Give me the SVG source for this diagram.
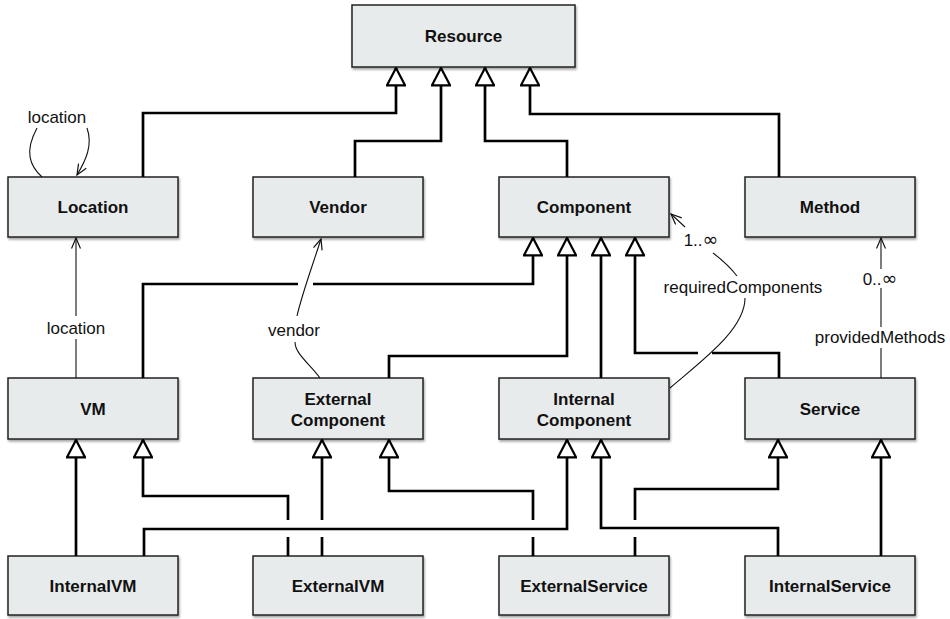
<svg xmlns="http://www.w3.org/2000/svg" width="950" height="619" viewBox="0 0 950 619">
  <defs>
    <filter id="shadow" x="-5%" y="-10%" width="115%" height="130%">
      <feDropShadow dx="1" dy="2" stdDeviation="1.2" flood-color="#000" flood-opacity="0.35"/>
    </filter>
    <!-- hollow triangle for generalization -->
    <marker id="gen" viewBox="0 0 20 20" refX="18.5" refY="10" markerWidth="20" markerHeight="20" markerUnits="userSpaceOnUse" orient="auto">
      <path d="M1.2,1 L18.5,10 L1.2,19 Z" fill="#fff" stroke="#000" stroke-width="2.2" stroke-linejoin="miter"/>
    </marker>
    <!-- open arrow for associations -->
    <marker id="nav" viewBox="0 0 12 10" refX="11" refY="5" markerWidth="12" markerHeight="10" markerUnits="userSpaceOnUse" orient="auto">
      <path d="M0.5,0.5 L11,5 L0.5,9.5" fill="none" stroke="#111" stroke-width="1.2"/>
    </marker>
  </defs>
  <style>
    .box { fill: #e8ebeb; stroke: #222; stroke-width: 1.5; filter: url(#shadow); }
    .name { font-family: "Liberation Sans", Arial, sans-serif; font-size: 17px; font-weight: bold; fill: #111; text-anchor: middle; }
    .lbl { font-family: "Liberation Sans", Arial, sans-serif; font-size: 17px; fill: #111; text-anchor: middle; }
    .inf { font-family: "DejaVu Sans", sans-serif; font-size: 19px; }
    .g { fill: none; stroke: #000; stroke-width: 2.7; stroke-linejoin: miter; }
    .a { fill: none; stroke: #111; stroke-width: 1.1; }
  </style>

  <rect width="950" height="619" fill="#fff"/>

  <!-- classes -->
  <g id="Resource"><rect class="box" x="352" y="5" width="223" height="62"/><text class="name" x="463.5" y="42">Resource</text></g>

  <g id="Location"><rect class="box" x="8" y="177" width="170" height="60"/><text class="name" x="93" y="213">Location</text></g>
  <g id="Vendor"><rect class="box" x="253" y="177" width="170" height="60"/><text class="name" x="338" y="213">Vendor</text></g>
  <g id="Component"><rect class="box" x="499" y="177" width="170" height="60"/><text class="name" x="584" y="213">Component</text></g>
  <g id="Method"><rect class="box" x="745" y="177" width="170" height="60"/><text class="name" x="830" y="213">Method</text></g>

  <g id="VM"><rect class="box" x="8" y="378" width="170" height="61"/><text class="name" x="93" y="415">VM</text></g>
  <g id="ExternalComponent"><rect class="box" x="253" y="378" width="170" height="61"/><text class="name" x="338" y="405">External</text><text class="name" x="338" y="426">Component</text></g>
  <g id="InternalComponent"><rect class="box" x="499" y="378" width="170" height="61"/><text class="name" x="584" y="405">Internal</text><text class="name" x="584" y="426">Component</text></g>
  <g id="Service"><rect class="box" x="745" y="378" width="170" height="61"/><text class="name" x="830" y="415">Service</text></g>

  <g id="InternalVM"><rect class="box" x="8" y="556" width="170" height="59"/><text class="name" x="93" y="592">InternalVM</text></g>
  <g id="ExternalVM"><rect class="box" x="253" y="556" width="170" height="59"/><text class="name" x="338" y="592">ExternalVM</text></g>
  <g id="ExternalService"><rect class="box" x="499" y="556" width="170" height="59"/><text class="name" x="584" y="592">ExternalService</text></g>
  <g id="InternalService"><rect class="box" x="745" y="556" width="170" height="59"/><text class="name" x="830" y="592">InternalService</text></g>

  <!-- connectors -->
  <g id="connectors">
    <!-- generalizations to Resource -->
    <path class="g" d="M143,177 V113 H396 V68" marker-end="url(#gen)"/>
    <path class="g" d="M355,177 V141 H441 V68" marker-end="url(#gen)"/>
    <path class="g" d="M567,177 V141 H485 V68" marker-end="url(#gen)"/>
    <path class="g" d="M779,177 V114 H530 V68" marker-end="url(#gen)"/>

    <!-- generalizations to Component -->
    <path class="g" d="M143,378 V284 H298"/>
    <path class="g" d="M313,284 H533 V238" marker-end="url(#gen)"/>
    <path class="g" d="M389,378 V356 H567 V238" marker-end="url(#gen)"/>
    <path class="g" d="M601,378 V238" marker-end="url(#gen)"/>
    <path class="g" d="M779,378 V353 H712"/>
    <path class="g" d="M698,353 H635 V238" marker-end="url(#gen)"/>

    <!-- generalizations from the bottom row -->
    <path class="g" d="M76,556 V440" marker-end="url(#gen)"/>
    <path class="g" d="M288,556 V537"/>
    <path class="g" d="M288,520 V496 H143 V440" marker-end="url(#gen)"/>
    <path class="g" d="M144,556 V529 H567 V440" marker-end="url(#gen)"/>
    <path class="g" d="M322,556 V537"/>
    <path class="g" d="M322,520 V440" marker-end="url(#gen)"/>
    <path class="g" d="M533,556 V537"/>
    <path class="g" d="M533,520 V491 H389 V440" marker-end="url(#gen)"/>
    <path class="g" d="M635,556 V537"/>
    <path class="g" d="M635,520 V489 H778 V440" marker-end="url(#gen)"/>
    <path class="g" d="M778,556 V528 H601 V440" marker-end="url(#gen)"/>
    <path class="g" d="M881,556 V440" marker-end="url(#gen)"/>

    <!-- Location self association -->
    <path class="a" d="M42,177 C30,166 24,152 37,128"/>
    <path class="a" d="M87,128 C93,145 86,160 77,175" marker-end="url(#nav)"/>
    <text class="lbl" x="57" y="123">location</text>

    <!-- VM -> Location -->
    <path class="a" d="M76,378 V339"/>
    <path class="a" d="M76,316 V238" marker-end="url(#nav)"/>
    <text class="lbl" x="76" y="334">location</text>

    <!-- ExternalComponent -> Vendor -->
    <path class="a" d="M320,378 C310,364 295,354 295,342"/>
    <path class="a" d="M297,316 C302,294 312,267 321,239" marker-end="url(#nav)"/>
    <text class="lbl" x="294" y="336">vendor</text>

    <!-- InternalComponent -> Component -->
    <path class="a" d="M670,388 C700,362 745,330 745,298"/>
    <path class="a" d="M737,276 C730,267 721,259 713,253"/>
    <path class="a" d="M685,227 L671,214" marker-end="url(#nav)"/>
    <text class="lbl" x="743" y="293">requiredComponents</text>
    <text class="lbl" x="701" y="246">1..<tspan class="inf">∞</tspan></text>

    <!-- Service -> Method -->
    <path class="a" d="M881,378 V348"/>
    <path class="a" d="M881,327 V288"/>
    <path class="a" d="M881,269 V238" marker-end="url(#nav)"/>
    <text class="lbl" x="880" y="285">0..<tspan class="inf">∞</tspan></text>
    <text class="lbl" x="880" y="343">providedMethods</text>
  </g>
</svg>
